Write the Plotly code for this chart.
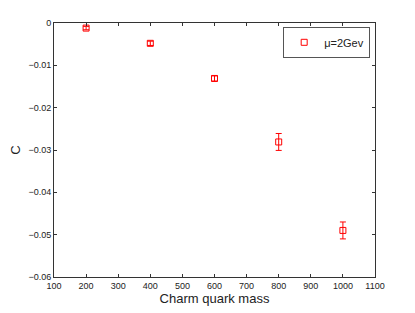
import plotly.graph_objects as go

mass = [200, 400, 600, 800, 1000]
C = [-0.0012, -0.0048, -0.0131, -0.0281, -0.0490]
err = [0.0004, 0.0005, 0.0006, 0.0020, 0.0020]

fig = go.Figure()
fig.add_trace(go.Scatter(
    x=mass, y=C, mode="markers", name="μ=2Gev",
    marker=dict(symbol="square-open", size=6, color="red", line=dict(width=1)),
    error_y=dict(type="data", array=err, visible=True, color="red", thickness=1, width=3),
))

axis_common = dict(
    showgrid=False, zeroline=False, showline=True, linecolor="#333", linewidth=1,
    mirror="ticks", ticks="inside", ticklen=3, tickcolor="#333", automargin=False,
    tickfont=dict(family="Liberation Sans, Arial", size=9, color="#222"),
)
fig.update_layout(
    width=415, height=313,
    margin=dict(l=46, r=48, t=15, b=44),
    paper_bgcolor="white", plot_bgcolor="white",
    font=dict(family="Liberation Sans, Arial", color="#222"),
    xaxis=dict(range=[100, 1100], tickvals=list(range(100, 1101, 100)),
               title=dict(text="Charm quark mass", font=dict(size=13), standoff=2), **axis_common),
    yaxis=dict(range=[-0.06, 0], tickvals=[0, -0.01, -0.02, -0.03, -0.04, -0.05, -0.06],
               ticktext=["0", "−0.01", "−0.02", "−0.03", "−0.04", "−0.05", "−0.06"],
               title=dict(text="C", font=dict(size=13), standoff=6), **axis_common),
    showlegend=True,
    legend=dict(x=0.985, y=0.985, xanchor="right", yanchor="top",
                bgcolor="white", bordercolor="#555", borderwidth=1,
                font=dict(size=11), itemwidth=30),
)
fig.write_html("out.html")
